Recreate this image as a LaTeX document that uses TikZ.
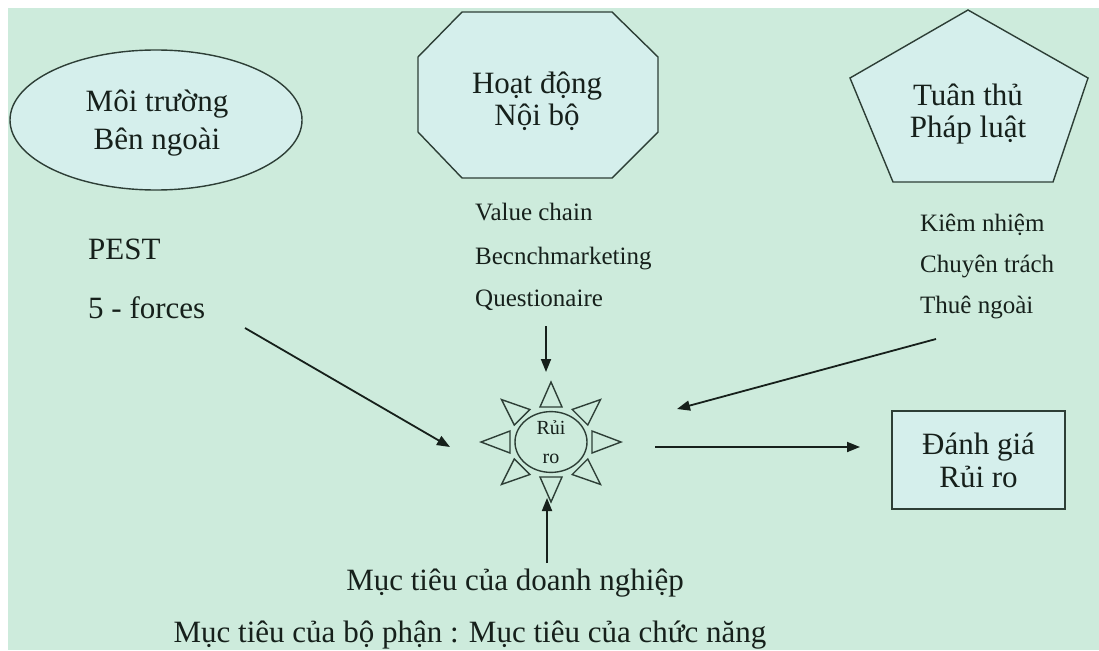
\documentclass[tikz,border=0pt]{standalone}
\usepackage{fontspec}
\setmainfont{Liberation Serif}
\usetikzlibrary{shapes.geometric,arrows.meta}
\definecolor{pagebg}{RGB}{205,235,220}
\definecolor{shapefill}{RGB}{213,239,236}
\definecolor{ink}{RGB}{22,32,27}
\definecolor{edge}{RGB}{45,62,54}
\begin{document}
\begin{tikzpicture}[x=1pt,y=-1pt,
  label31/.style={font=\fontsize{31}{#1}\selectfont, text=ink, align=center, inner sep=0pt},
  listtext/.style={font=\fontsize{25}{30}\selectfont, text=ink, anchor=base west, inner sep=0pt},
  outline/.style={draw=edge, line width=1.4pt, fill=shapefill},
  conn/.style={draw=ink, line width=1.8pt, -{Triangle[length=13pt,width=10pt]}},
]
% page and background
\fill[white] (0,0) rectangle (1099,650);
\fill[pagebg] (8,8) rectangle (1099,650);
\useasboundingbox (0,0) rectangle (1099,650);

% external environment
\node[ellipse, outline, minimum width=292pt, minimum height=140pt] (envshape) at (156,120) {};
\node[label31=38] (env) at (157,123) {Môi trường\\Bên ngoài};
\node[listtext, font=\fontsize{31}{36}\selectfont] (pest) at (88,259) {PEST};
\node[listtext, font=\fontsize{31}{36}\selectfont] (forces) at (88,318) {5 - forces};

% internal activities (octagon)
\draw[outline] (462,12) -- (612,12) -- (658,57) -- (658,132) -- (612,178)
  -- (462,178) -- (418,132) -- (418,57) -- cycle;
\node[label31=32] (internal) at (537,101) {Hoạt động\\Nội bộ};
\node[listtext] (vchain) at (475,220) {Value chain};
\node[listtext] (bench) at (475,264) {Becnchmarketing};
\node[listtext] (quest) at (475,306) {Questionaire};

% legal compliance (pentagon)
\draw[outline] (968,10) -- (1088,78) -- (1053,182) -- (893,182) -- (850,78) -- cycle;
\node[label31=32] (law) at (968,114) {Tuân thủ\\Pháp luật};
\node[listtext] (kiem) at (920,231) {Kiêm nhiệm};
\node[listtext] (chuyen) at (920,272) {Chuyên trách};
\node[listtext] (thue) at (920,313) {Thuê ngoài};

% risk "sun"
\node[ellipse, draw=edge, line width=1.4pt, minimum width=72pt, minimum height=58pt,
      font=\fontsize{20}{29}\selectfont, text=ink, align=center, inner sep=0pt] (risk) at (551,442) {Rủi\\ro};
\foreach \a in {0,45,...,315} {
  \draw[edge, line width=1.4pt, shift={(risk.center)}]
    ({70*cos(\a)},{60*sin(\a)})
    -- ({41*cos(\a)-11*sin(\a)},{35*sin(\a)+11*cos(\a)})
    -- ({41*cos(\a)+11*sin(\a)},{35*sin(\a)-11*cos(\a)}) -- cycle;
}

% risk assessment
\node[rectangle, outline, minimum width=173pt, minimum height=98pt,
      label31=33] (eval) at (978.5,460) {Đánh giá\\Rủi ro};

% objectives
\node[font=\fontsize{31}{36}\selectfont, text=ink, anchor=base, inner sep=0pt] (goal1) at (515,590) {Mục tiêu của doanh nghiệp};
\node[font=\fontsize{31}{36}\selectfont, text=ink, anchor=base, inner sep=0pt] (goal2) at (470,642) {Mục tiêu của bộ phận : Mục tiêu của chức năng};

% connector end points
\coordinate (pestA) at (245,328);
\coordinate (pestB) at (450,447);
\coordinate (questA) at (546,326);
\coordinate (questB) at (546,372);
\coordinate (lawA) at (936,339);
\coordinate (lawB) at (677,409);
\coordinate (outA) at (655,447);
\coordinate (outB) at (860,447);
\coordinate (goalA) at (547,563);
\coordinate (goalB) at (547,498);

% connectors
\draw[conn] (pestA) -- (pestB);
\draw[conn] (questA) -- (questB);
\draw[conn] (lawA) -- (lawB);
\draw[conn] (outA) -- (outB);
\draw[conn] (goalA) -- (goalB);
\end{tikzpicture}
\end{document}
